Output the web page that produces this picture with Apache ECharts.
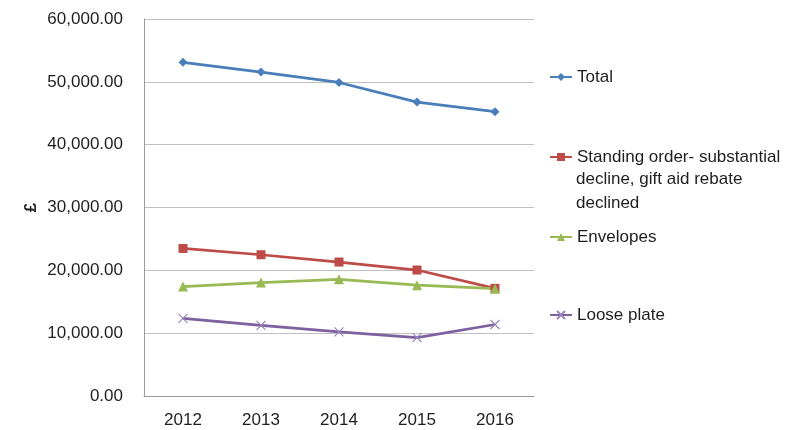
<!DOCTYPE html>
<html><head><meta charset="utf-8">
<script src="https://cdn.jsdelivr.net/npm/echarts@6/dist/echarts.min.js"></script>
<style>html,body{margin:0;padding:0;background:#fff}#c{width:812px;height:430px}</style>
</head><body><div id="c"></div>
<script>
const years = ['2012','2013','2014','2015','2016'];
const total = [53100, 51550, 49900, 46780, 45250];
const standingOrder = [23480, 22480, 21320, 20050, 17130];
const envelopes = [17420, 18050, 18570, 17640, 17080];
const loosePlate = [12350, 11250, 10200, 9300, 11380];
const yTicks = [0, 10000, 20000, 30000, 40000, 50000, 60000];
const names = ['Total', 'Standing order- substantial', 'Envelopes', 'Loose plate'];

const FONT = 'Liberation Sans';
const FS = 17;
const TXT = '#1e1e1e';
const colors = ['#4a7ebb', '#be4b48', '#98b954', '#7d60a0'];
const crossPath = 'path://M0,0L10,10M10,0L0,10';

const chart = echarts.init(document.getElementById('c'), null, {renderer: 'canvas'});
function legendAt(name, cy) {
  return {
    data: [name], left: 549, top: cy - 10, padding: 0,
    itemWidth: 22, itemHeight: 10, selectedMode: false,
    textStyle: {fontFamily: FONT, fontSize: FS, color: TXT, lineHeight: 20}
  };
}
const fmt = v => v.toLocaleString('en-US', {minimumFractionDigits: 2, maximumFractionDigits: 2});
chart.setOption({
  animation: false,
  color: colors,
  grid: {left: 144, top: 19, right: 278, bottom: 34, containLabel: false},
  xAxis: {
    type: 'category', data: years, boundaryGap: true,
    axisLine: {lineStyle: {color: '#9a9a9a', width: 1}},
    axisTick: {show: false},
    axisLabel: {fontFamily: FONT, fontSize: FS, color: TXT, margin: 16}
  },
  yAxis: {
    type: 'value', min: yTicks[0], max: yTicks[yTicks.length - 1], interval: 10000,
    name: '£', nameLocation: 'middle', nameRotate: 90, nameGap: 104,
    nameTextStyle: {fontFamily: FONT, fontSize: FS, fontWeight: 'bold', color: TXT},
    axisLine: {show: true, lineStyle: {color: '#9a9a9a', width: 1}},
    axisTick: {show: false},
    splitLine: {lineStyle: {color: '#c0c0c0', width: 1}},
    axisLabel: {fontFamily: FONT, fontSize: FS, color: TXT, margin: 21, formatter: fmt}
  },
  legend: [
    legendAt(names[0], 77),
    legendAt(names[1], 157),
    legendAt(names[2], 237),
    legendAt(names[3], 315)
  ],
  graphic: [
    {type: 'text', left: 576, top: 171, style: {text: 'decline, gift aid rebate', font: FS + 'px "Liberation Sans"', fill: TXT}},
    {type: 'text', left: 576, top: 195, style: {text: 'declined', font: FS + 'px "Liberation Sans"', fill: TXT}}
  ],
  series: [
    {name: names[0], type: 'line', data: total, symbol: 'diamond', symbolSize: 9,
     lineStyle: {width: 2.75, color: colors[0]}, itemStyle: {color: colors[0]}},
    {name: names[1], type: 'line', data: standingOrder, symbol: 'rect', symbolSize: 9,
     lineStyle: {width: 2.75, color: colors[1]}, itemStyle: {color: colors[1]}},
    {name: names[2], type: 'line', data: envelopes, symbol: 'triangle', symbolSize: 10,
     lineStyle: {width: 2.75, color: colors[2]}, itemStyle: {color: colors[2]}},
    {name: names[3], type: 'line', data: loosePlate, symbol: crossPath, symbolSize: 9,
     lineStyle: {width: 2.75, color: colors[3]},
     itemStyle: {color: colors[3], borderColor: '#9b87bb', borderWidth: 1.2}}
  ]
});
</script></body></html>
